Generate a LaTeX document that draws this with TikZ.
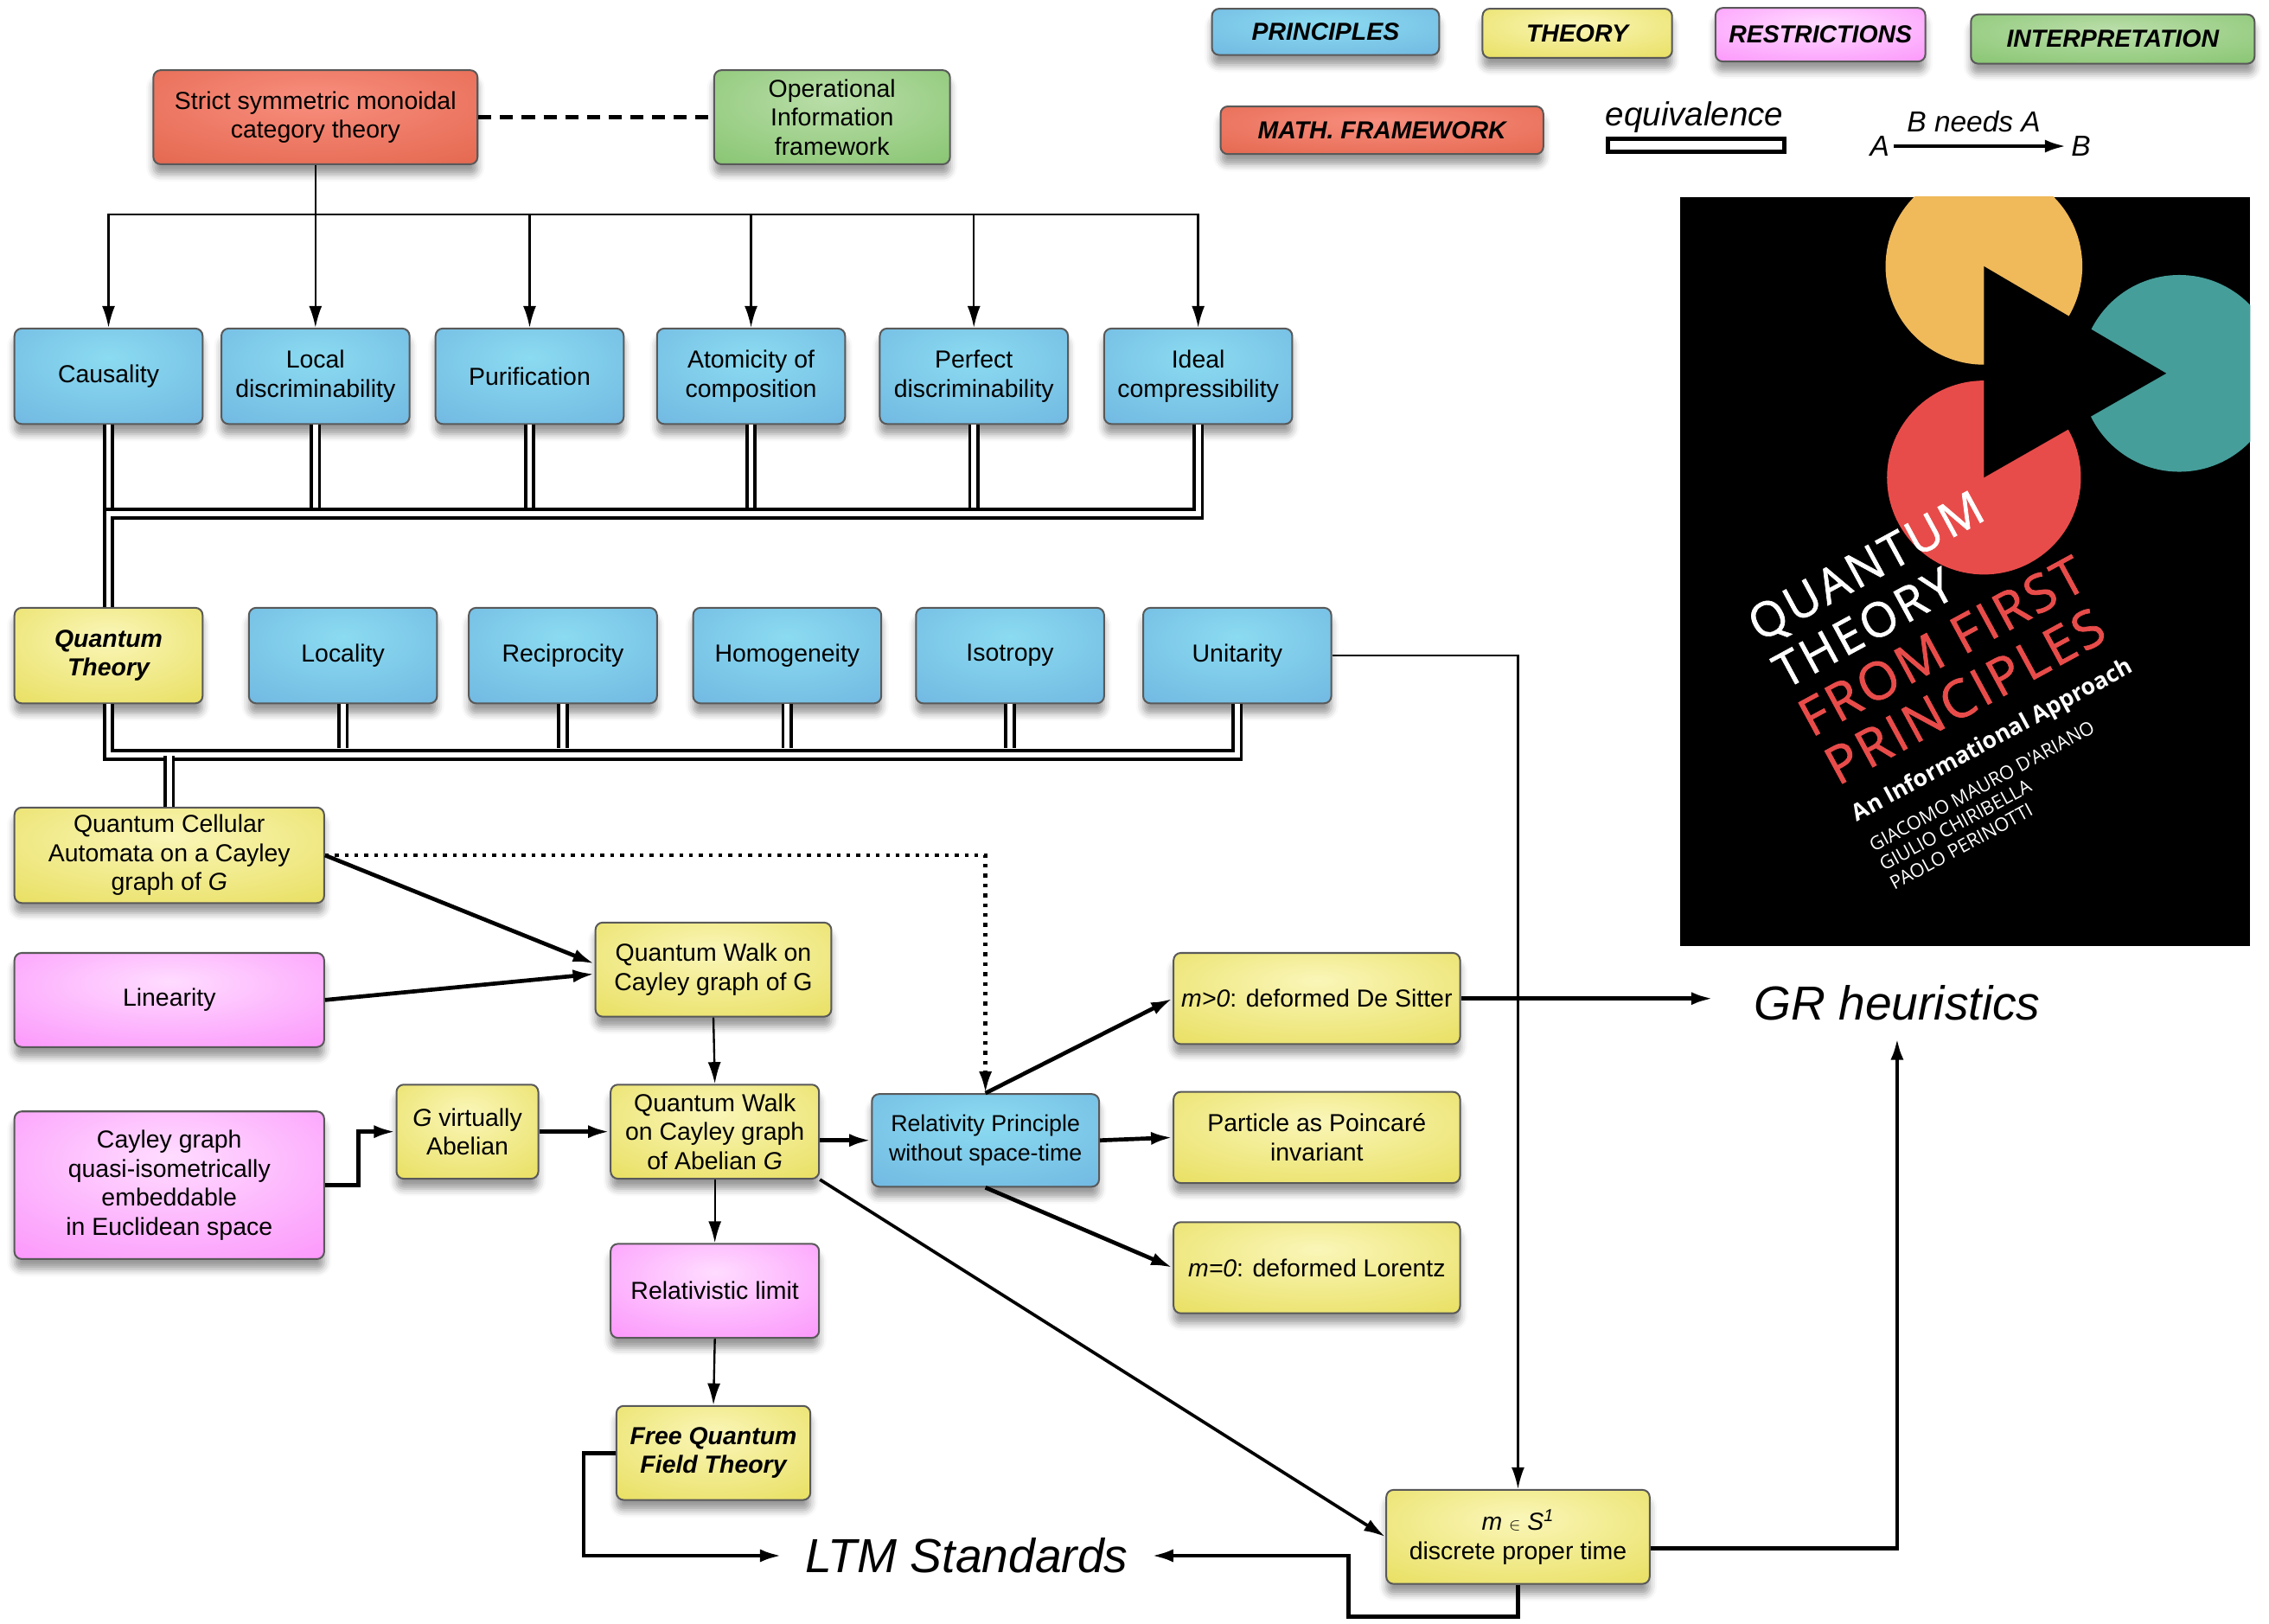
\documentclass[tikz,border=0pt]{standalone}
\usepackage{fontspec}
\setmainfont{Liberation Sans}
\newfontfamily\coverfont[LetterSpace=6,FakeBold=1.2]{Open Sans}
\newfontfamily\coverplain{Open Sans}
\usetikzlibrary{arrows.meta,shadows.blur}

\definecolor{prinA}{HTML}{8BDBF1}
\definecolor{prinB}{HTML}{68ACDC}
\definecolor{theoA}{HTML}{FAF6B8}
\definecolor{theoB}{HTML}{E2D742}
\definecolor{restA}{HTML}{FFDCFF}
\definecolor{restB}{HTML}{FA7EFA}
\definecolor{intA}{HTML}{BADEA9}
\definecolor{intB}{HTML}{76BC5E}
\definecolor{mathA}{HTML}{F88E7E}
\definecolor{mathB}{HTML}{DD5A3E}
\definecolor{coverYellow}{HTML}{F0B95A}
\definecolor{coverRed}{HTML}{E84C4A}
\definecolor{coverTeal}{HTML}{459E9A}

\pgfdeclareradialshading{pringlow}{\pgfpoint{0bp}{10bp}}{color(0bp)=(prinA); color(55bp)=(prinB); color(100bp)=(prinB)}
\pgfdeclareradialshading{theoglow}{\pgfpoint{0bp}{10bp}}{color(0bp)=(theoA); color(55bp)=(theoB); color(100bp)=(theoB)}
\pgfdeclareradialshading{restglow}{\pgfpoint{0bp}{10bp}}{color(0bp)=(restA); color(55bp)=(restB); color(100bp)=(restB)}
\pgfdeclareradialshading{intglow}{\pgfpoint{0bp}{10bp}}{color(0bp)=(intA); color(55bp)=(intB); color(100bp)=(intB)}
\pgfdeclareradialshading{mathglow}{\pgfpoint{0bp}{10bp}}{color(0bp)=(mathA); color(55bp)=(mathB); color(100bp)=(mathB)}

\begin{document}
\begin{tikzpicture}[x=1pt,y=-1pt]
		\tikzset{box/.style = {rectangle, rounded corners=5pt, draw=black!65, line width=1.2pt,
				align=center, inner sep=1pt, font=\fontsize{17}{20}\selectfont,
				blur shadow={shadow xshift=0pt, shadow yshift=-7pt, shadow blur radius=5pt, shadow opacity=40}}}
		\tikzset{principle/.style = {box, shading=pringlow, minimum width=130pt, minimum height=66pt}}
		\tikzset{theory/.style = {box, shading=theoglow}}
		\tikzset{restr/.style = {box, shading=restglow}}
		\tikzset{interp/.style = {box, shading=intglow}}
		\tikzset{mathfw/.style = {box, shading=mathglow}}
		\tikzset{legend/.style = {font=\fontsize{17}{20}\selectfont\bfseries\itshape}}
		\tikzset{edge/.style = {-{Latex[length=15pt,width=9pt]}, line width=1.4pt}}
		\tikzset{bold edge/.style = {edge, line width=2.8pt}}
		\tikzset{equiv/.style = {double=white, double distance=3.5pt, line width=2.2pt}}
		\tikzset{same/.style = {line width=3pt, dash pattern=on 9pt off 6pt}}
		\tikzset{hint/.style = {edge, line width=2.6pt, dash pattern=on 2.6pt off 4.2pt}}
		\tikzset{big/.style = {font=\fontsize{33}{36}\selectfont\itshape}}
		
		\useasboundingbox (0,0) rectangle (1568,1122);
		
		% legend
		\node[principle, legend, minimum width=157pt, minimum height=32pt] (lprin)   at ( 916,  22) {PRINCIPLES};
		\node[theory,    legend, minimum width=131pt, minimum height=34pt] (ltheo)   at (1090,  23) {THEORY};
		\node[restr,     legend, minimum width=145pt, minimum height=37pt] (lrestr)  at (1258,  24) {RESTRICTIONS};
		\node[interp,    legend, minimum width=196pt, minimum height=34pt] (linterp) at (1460,  27) {INTERPRETATION};
		\node[mathfw,    legend, minimum width=223pt, minimum height=33pt] (lmath)   at ( 955,  90) {MATH. FRAMEWORK};
		\node[font=\fontsize{23}{26}\selectfont\itshape] (lequiv) at (1171,  81) {equivalence};
		\draw[line width=3pt] (1111,96) rectangle (1233,105);
		\node[font=\fontsize{20}{24}\selectfont\itshape] (lneeds) at (1364,  84) {B needs A};
		\node[font=\fontsize{20}{24}\selectfont\itshape, inner sep=3pt] (lA) at (1299, 101) {A};
		\node[font=\fontsize{20}{24}\selectfont\itshape, inner sep=3pt] (lB) at (1438, 101) {B};
		\draw[bold edge] (lA) -- (lB);
		
		% book cover
		\begin{scope}
			\clip (1161,136) rectangle (1555,654);
			\fill[black] (1161,136) rectangle (1555,654);
			\fill[coverYellow] (1371,184) circle[radius=68];
			\fill[coverRed] (1371,330) circle[radius=67];
			\fill[coverTeal] (1506,258) circle[radius=68];
			\fill[black] (1371,184) -- (1371,330) -- (1497,258) -- cycle;
		\end{scope}
		\begin{scope}[shift={(1216,444)}, rotate=28.5, transform shape]
			\tikzset{covertext/.style = {anchor=base west, inner sep=0pt}}
			\node[covertext, white, font=\coverfont\fontsize{33}{33}\selectfont] (c1) at (0,0) {QUANTUM};
			\node[covertext, white, font=\coverfont\fontsize{33}{33}\selectfont] (c2) at (0,37) {THEORY};
			\node[covertext, coverRed, font=\coverfont\fontsize{36}{36}\selectfont] (c3) at (0,75) {FROM FIRST};
			\node[covertext, coverRed, font=\coverfont\fontsize{36}{36}\selectfont] (c4) at (0,113) {PRINCIPLES};
			\node[covertext, white, font=\coverplain\bfseries\fontsize{16}{16}\selectfont] (c5) at (0,141) {An Informational Approach};
			\node[covertext, white, font=\coverplain\fontsize{13}{13}\selectfont] (c6) at (0,165) {GIACOMO MAURO D'ARIANO};
			\node[covertext, white, font=\coverplain\fontsize{13}{13}\selectfont] (c7) at (0,180) {GIULIO CHIRIBELLA};
			\node[covertext, white, font=\coverplain\fontsize{13}{13}\selectfont] (c8) at (0,195) {PAOLO PERINOTTI};
		\end{scope}
		
		% framework
		\node[mathfw, minimum width=224pt, minimum height=65pt] (strict) at (218,  81) {Strict symmetric monoidal\\category theory};
		\node[interp, minimum width=163pt, minimum height=65pt] (oif)    at (575,  81) {Operational\\Information\\framework};
		\draw[same] (strict) -- (oif);
		
		% principles
		\node[principle] (causality)   at ( 75, 260) {Causality};
		\node[principle] (local)       at (218, 260) {Local\\discriminability};
		\node[principle] (purif)       at (366, 260) {Purification};
		\node[principle] (atomic)      at (519, 260) {Atomicity of\\composition};
		\node[principle] (perfect)     at (673, 260) {Perfect\\discriminability};
		\node[principle] (ideal)       at (828, 260) {Ideal\\compressibility};
		
		\coordinate (bus) at (0,148);
		\draw[edge] (strict.south) -- (strict.south |- bus) -| (causality.north);
		\draw[edge] (strict.south) -- (local.north);
		\draw[edge] (strict.south) -- (strict.south |- bus) -| (purif.north);
		\draw[edge] (strict.south) -- (strict.south |- bus) -| (atomic.north);
		\draw[edge] (strict.south) -- (strict.south |- bus) -| (perfect.north);
		\draw[edge] (strict.south) -- (strict.south |- bus) -| (ideal.north);
		
		\node[theory, minimum width=130pt, minimum height=66pt, font=\fontsize{17}{20}\selectfont\bfseries\itshape] (qt) at ( 75, 453) {Quantum\\Theory};
		\node[principle] (locality)    at (237, 453) {Locality};
		\node[principle] (recipr)      at (389, 453) {Reciprocity};
		\node[principle] (homog)       at (544, 453) {Homogeneity};
		\node[principle] (isotropy)    at (698, 453) {Isotropy};
		\node[principle] (unitarity)   at (855, 453) {Unitarity};
		
		% equivalences
		\coordinate (bus1) at (75,355);
		\coordinate (top1) at (0,351);
		\draw[equiv] (ideal.south) |- (bus1) -- (qt.north);
		\draw[equiv] (causality.south) -- (causality.south |- top1);
		\draw[equiv] (local.south) -- (local.south |- top1);
		\draw[equiv] (purif.south) -- (purif.south |- top1);
		\draw[equiv] (atomic.south) -- (atomic.south |- top1);
		\draw[equiv] (perfect.south) -- (perfect.south |- top1);
		
		\node[theory, minimum width=214pt, minimum height=66pt] (qca) at (117, 591) {Quantum Cellular\\Automata on a Cayley\\graph of \textit{G}};
		
		\coordinate (top2) at (0,517);
		\coordinate (low2) at (0,522.5);
		\draw[equiv] (qt.south) -- ++(0,35) -| (unitarity.south);
		\draw[equiv] (locality.south) -- (locality.south |- top2);
		\draw[equiv] (recipr.south) -- (recipr.south |- top2);
		\draw[equiv] (homog.south) -- (homog.south |- top2);
		\draw[equiv] (isotropy.south) -- (isotropy.south |- top2);
		\draw[equiv] (qca.north |- low2) -- (qca.north);
		
		% restrictions and results
		\node[restr, minimum width=214pt, minimum height=65pt] (linearity) at (117, 691) {Linearity};
		\node[restr, minimum width=214pt, minimum height=102pt] (cayley)  at (117, 819) {Cayley graph\\quasi-isometrically\\embeddable\\in Euclidean space};
		\node[theory, minimum width=98pt, minimum height=65pt] (gvirt)    at (323, 782) {\textit{G} virtually\\Abelian};
		\node[theory, minimum width=163pt, minimum height=65pt] (qw)       at (493, 670) {Quantum Walk on\\Cayley graph of G};
		\node[theory, minimum width=144pt, minimum height=65pt] (qwa)      at (494, 782) {Quantum Walk\\on Cayley graph\\of Abelian \textit{G}};
		\node[principle, minimum width=157pt, minimum height=64pt, font=\fontsize{16}{20}\selectfont] (rel) at (681, 788) {Relativity Principle\\without space-time};
		\node[restr, minimum width=144pt, minimum height=65pt] (rellim)   at (494, 892) {Relativistic limit};
		\node[theory, minimum width=134pt, minimum height=65pt, font=\fontsize{17}{20}\selectfont\bfseries\itshape] (fqft) at (493,1004) {Free Quantum\\Field Theory};
		\node[theory, minimum width=198pt, minimum height=63pt] (msit)     at (910, 690) {\textit{m>0}: deformed De Sitter};
		\node[theory, minimum width=198pt, minimum height=63pt] (poinc)    at (910, 786) {Particle as Poincar\'e\\invariant};
		\node[theory, minimum width=198pt, minimum height=63pt] (mlor)     at (910, 876) {\textit{m=0}: deformed Lorentz};
		\node[theory, minimum width=182pt, minimum height=65pt] (mtime)    at (1049,1062) {\textit{m} {\fontsize{12}{12}\selectfont$\in$} \textit{S\textsuperscript{1}}\\discrete proper time};
		
		\node[big, inner xsep=28pt, inner ysep=12pt] (gr)  at (1311, 693) {GR heuristics};
		\node[big, inner xsep=16pt] (ltm) at (668,1075) {LTM Standards};
		
		\draw[bold edge] (qca.east) -- ([yshift=4pt]qw.west);
		\draw[bold edge] (linearity.east) -- ([yshift=-3pt]qw.west);
		\draw[hint] (qca.east) -| (rel.north);
		\draw[edge] (qw.south) -- (qwa.north);
		\draw[bold edge] (cayley.east) -- ++(23,0) |- (gvirt.west);
		\draw[bold edge] (gvirt.east) -- (qwa.west);
		\draw[bold edge] (qwa.east |- rel.west) -- (rel.west);
		\draw[edge] (qwa.south) -- (rellim.north);
		\draw[edge] (rellim.south) -- (fqft.north);
		\draw[edge, line width=2.2pt] (qwa.south east) -- (mtime.west);
		\draw[bold edge] (rel.north) -- (msit.west);
		\draw[bold edge] (rel.east) -- (poinc.west);
		\draw[bold edge] (rel.south) -- (mlor.west);
		\draw[bold edge] (msit.east) -- (msit.east -| gr.west);
		\draw[edge] (unitarity.east) -| (mtime.north);
		\draw[bold edge] ([yshift=-8pt]mtime.east) -| (gr.south);
		\coordinate (turn) at (932,1117);
		\draw[bold edge] (mtime.south) |- (turn) |- (ltm.east);
		\draw[bold edge] (fqft.west) -- ++(-22,0) |- (ltm.west);
\end{tikzpicture}
\end{document}
